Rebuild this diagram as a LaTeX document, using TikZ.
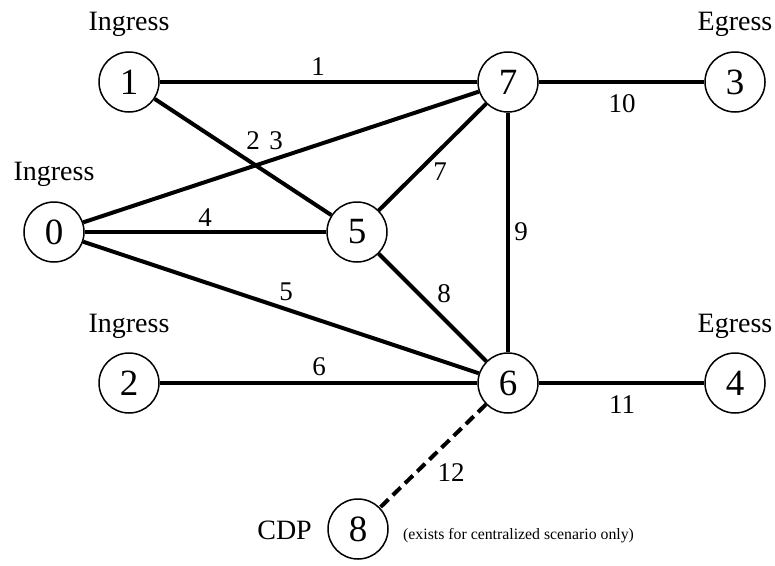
\documentclass[tikz,border=0pt]{standalone}
\usepackage{fontspec}
\setmainfont{Liberation Serif}
\begin{document}
\begin{tikzpicture}[x=1pt,y=-1pt,
  nd/.style={circle,draw,line width=1.5pt,minimum size=60pt,inner sep=0pt,font=\fontsize{37}{37}\selectfont},
  lnk/.style={line width=4pt},
  dlnk/.style={line width=4pt,dash pattern=on 11pt off 6pt},
  el/.style={font=\fontsize{27}{27}\selectfont,inner sep=0pt},
  tl/.style={font=\fontsize{28}{28}\selectfont,inner sep=0pt,anchor=base},
  sl/.style={font=\fontsize{15.8}{15.8}\selectfont,inner sep=0pt}]
\useasboundingbox (0,0) rectangle (775,565);
\node[nd] (n1) at (129,82) {1};
\node[nd] (n7) at (508,82) {7};
\node[nd] (n3) at (735,82) {3};
\node[nd] (n0) at (54,232) {0};
\node[nd] (n5) at (357,232) {5};
\node[nd] (n6) at (508,383) {6};
\node[nd] (n2) at (129,383) {2};
\node[nd] (n4) at (735,383) {4};
\node[nd] (n8) at (358,529) {8};
\node[tl] (t1) at (129,30) {Ingress};
\node[tl] (t3) at (735,30) {Egress};
\node[tl] (t0) at (54,180) {Ingress};
\node[tl] (t2) at (129,332) {Ingress};
\node[tl] (t4) at (735,332) {Egress};
\node[tl,anchor=base east] (tc) at (312,539) {CDP};
\node[sl,anchor=base west] (note) at (403,539) {(exists for centralized scenario only)};
\draw[lnk] (n1) -- (n7);
\draw[lnk] (n7) -- (n3);
\draw[lnk] (n1) -- (n5);
\draw[lnk] (n0) -- (n7);
\draw[lnk] (n0) -- (n5);
\draw[lnk] (n0) -- (n6);
\draw[lnk] (n5) -- (n7);
\draw[lnk] (n5) -- (n6);
\draw[lnk] (n7) -- (n6);
\draw[lnk] (n2) -- (n6);
\draw[lnk] (n6) -- (n4);
\draw[dlnk] (n6) -- (n8);
\node[el] (e1) at (318,67) {1};
\node[el] (e10) at (622,104) {10};
\node[el] (e2) at (253,141) {2};
\node[el] (e3) at (276,141) {3};
\node[el] (e7) at (440,172) {7};
\node[el] (e4) at (205,218) {4};
\node[el] (e9) at (521,232) {9};
\node[el] (e8) at (444,294) {8};
\node[el] (e5) at (286,292) {5};
\node[el] (e6) at (319,367) {6};
\node[el] (e11) at (622,405) {11};
\node[el] (e12) at (451,473) {12};
\end{tikzpicture}
\end{document}
